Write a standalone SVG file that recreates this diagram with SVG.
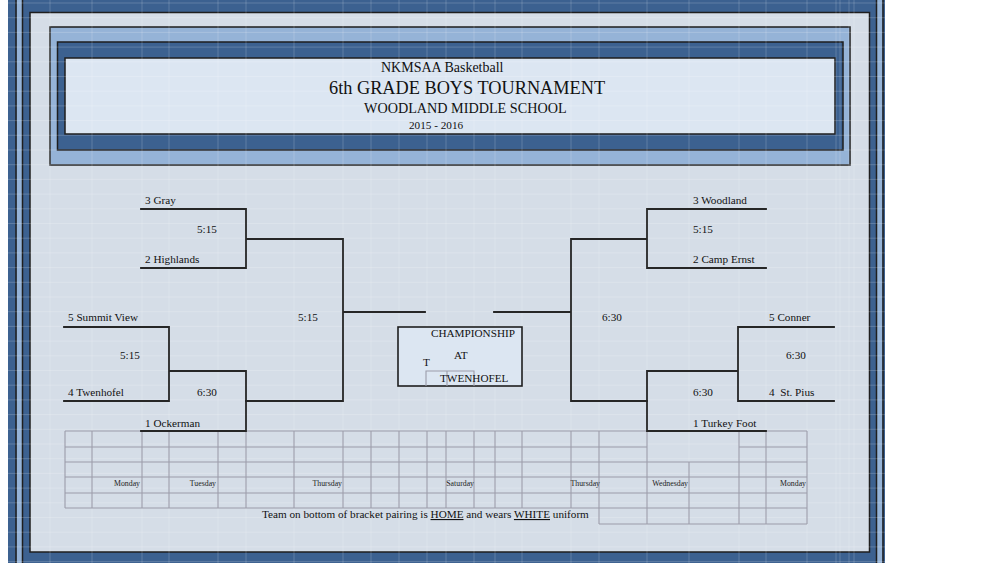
<svg xmlns="http://www.w3.org/2000/svg" width="1000" height="563" viewBox="0 0 1000 563">
<style>
.t{font-family:"Liberation Serif","Times New Roman",serif;fill:#111;}
.tm{font-size:11.2px;}
.day{font-size:7.8px;text-anchor:end;fill:#222;}
.br{stroke:#262626;stroke-width:1.8;fill:none;stroke-linecap:square;}
.tb{stroke:#9c9caa;stroke-width:1.1;fill:none;}
.fr{stroke:#1e1e1e;stroke-width:1.5;}
.gl{stroke:#ffffff;stroke-opacity:0.18;stroke-width:1;}
</style>
<defs>
<pattern id="hgrid" patternUnits="userSpaceOnUse" x="0" y="2.5" width="1000" height="14.7">
<line x1="0" y1="0.5" x2="1000" y2="0.5" class="gl"/>
</pattern>
</defs>
<rect width="1000" height="563" fill="#ffffff"/>
<g id="frame">
<rect x="8" y="0" width="877" height="563" fill="#3c6190"/>
<rect x="16.5" y="0" width="5.5" height="563" fill="#95b3d7"/>
<line x1="16" y1="0" x2="16" y2="563" class="fr"/>
<line x1="22.5" y1="0" x2="22.5" y2="563" class="fr"/>
<rect x="876.5" y="0" width="6" height="563" fill="#95b3d7"/>
<line x1="876.5" y1="0" x2="876.5" y2="563" class="fr"/>
<line x1="883" y1="0" x2="883" y2="563" class="fr"/>
<rect x="30" y="12.5" width="839.5" height="539.5" fill="#d5dde7" class="fr"/>
</g>
<g id="header">
<rect x="50" y="27" width="800" height="138" fill="#95b3d7" class="fr"/>
<rect x="57.5" y="42" width="785.5" height="108" fill="#3c6190" class="fr"/>
<rect x="65" y="58" width="770" height="76" fill="#dce6f2" class="fr"/>
</g>
<g id="grid-overlay">
<rect x="8" y="0" width="877" height="563" fill="url(#hgrid)"/>
<line x1="50" y1="0" x2="50" y2="563" class="gl"/>
<line x1="92" y1="0" x2="92" y2="563" class="gl"/>
<line x1="142" y1="0" x2="142" y2="563" class="gl"/>
<line x1="169" y1="0" x2="169" y2="563" class="gl"/>
<line x1="218" y1="0" x2="218" y2="563" class="gl"/>
<line x1="246" y1="0" x2="246" y2="563" class="gl"/>
<line x1="294" y1="0" x2="294" y2="563" class="gl"/>
<line x1="343" y1="0" x2="343" y2="563" class="gl"/>
<line x1="371" y1="0" x2="371" y2="563" class="gl"/>
<line x1="399" y1="0" x2="399" y2="563" class="gl"/>
<line x1="427" y1="0" x2="427" y2="563" class="gl"/>
<line x1="446" y1="0" x2="446" y2="563" class="gl"/>
<line x1="474" y1="0" x2="474" y2="563" class="gl"/>
<line x1="495" y1="0" x2="495" y2="563" class="gl"/>
<line x1="522" y1="0" x2="522" y2="563" class="gl"/>
<line x1="571" y1="0" x2="571" y2="563" class="gl"/>
<line x1="599" y1="0" x2="599" y2="563" class="gl"/>
<line x1="647" y1="0" x2="647" y2="563" class="gl"/>
<line x1="689" y1="0" x2="689" y2="563" class="gl"/>
<line x1="739" y1="0" x2="739" y2="563" class="gl"/>
<line x1="766" y1="0" x2="766" y2="563" class="gl"/>
<line x1="807" y1="0" x2="807" y2="563" class="gl"/>
<line x1="836" y1="0" x2="836" y2="563" class="gl"/>
<line x1="840" y1="0" x2="840" y2="563" class="gl"/>
<line x1="849" y1="0" x2="849" y2="563" class="gl"/>
<line x1="854" y1="0" x2="854" y2="563" class="gl"/>
</g>
<g id="title">
<text class="t" x="381" y="72" font-size="14">NKMSAA Basketball</text>
<text class="t" x="329" y="94" font-size="18.3">6th GRADE BOYS TOURNAMENT</text>
<text class="t" x="364" y="113" font-size="14.2">WOODLAND MIDDLE SCHOOL</text>
<text class="t" x="409" y="129" font-size="11.2">2015 - 2016</text>
</g>
<g id="schedule-table">
<path class="tb" d="M65 431H807M65 447H647M739 447H807M65 462H807M65 477H807M65 493H807M65 508H807M599 524H807"/>
<path class="tb" d="M65 431V508M92 431V508M142 431V508M169 431V508M218 431V508M246 431V508M294 431V508M343 431V508M371 431V508M399 431V508M427 431V508M446 431V508M474 431V508M495 431V508M522 431V508M571 431V508M599 431V524M647 431V524M689 462V524M739 431V524M766 431V524M807 431V524"/>
<text class="t day" x="140" y="486">Monday</text>
<text class="t day" x="216" y="486">Tuesday</text>
<text class="t day" x="342" y="486">Thursday</text>
<text class="t day" x="474" y="486">Saturday</text>
<text class="t day" x="600" y="486">Thursday</text>
<text class="t day" x="688" y="486">Wednesday</text>
<text class="t day" x="806" y="486">Monday</text>
</g>
<g id="connectors">
<path class="br" d="M141 209H246V268H141M246 239H343V401H246M343 312H425"/>
<path class="br" d="M64 327H169V401H64M169 371H246V431H141"/>
<path class="br" d="M766 209H647V268H766M647 239H571V401H647M571 312H494"/>
<path class="br" d="M834 327H738V401H834M738 371H647V431H766"/>
</g>
<g id="left-bracket">
<text class="t tm" x="145" y="204">3 Gray</text>
<text class="t tm" x="197" y="233">5:15</text>
<text class="t tm" x="145" y="263">2 Highlands</text>
<text class="t tm" x="68" y="321">5 Summit View</text>
<text class="t tm" x="298" y="321">5:15</text>
<text class="t tm" x="120" y="359">5:15</text>
<text class="t tm" x="68" y="396">4 Twenhofel</text>
<text class="t tm" x="197" y="396">6:30</text>
<text class="t tm" x="145" y="427">1 Ockerman</text>
</g>
<g id="right-bracket">
<text class="t tm" x="693" y="204">3 Woodland</text>
<text class="t tm" x="693" y="233">5:15</text>
<text class="t tm" x="693" y="263">2 Camp Ernst</text>
<text class="t tm" x="602" y="321">6:30</text>
<text class="t tm" x="769" y="321">5 Conner</text>
<text class="t tm" x="786" y="359">6:30</text>
<text class="t tm" x="769" y="396" xml:space="preserve">4  St. Pius</text>
<text class="t tm" x="693" y="396">6:30</text>
<text class="t tm" x="693" y="427">1 Turkey Foot</text>
</g>
<g id="championship">
<rect x="398" y="327" width="124" height="59" fill="#dce6f2" stroke="#1e1e1e" stroke-width="1.6"/>
<path class="tb" d="M426 386V371H474V386M447 371V386"/>
<text class="t tm" x="431" y="337">CHAMPIONSHIP</text>
<text class="t tm" x="454" y="359">AT</text>
<text class="t tm" x="423" y="366">T</text>
<text class="t tm" x="440" y="382">TWENHOFEL</text>
</g>
<g id="note">
<text class="t tm" x="262" y="518">Team on bottom of bracket pairing is <tspan text-decoration="underline">HOME</tspan> and wears <tspan text-decoration="underline">WHITE</tspan> uniform</text>
</g>
</svg>
